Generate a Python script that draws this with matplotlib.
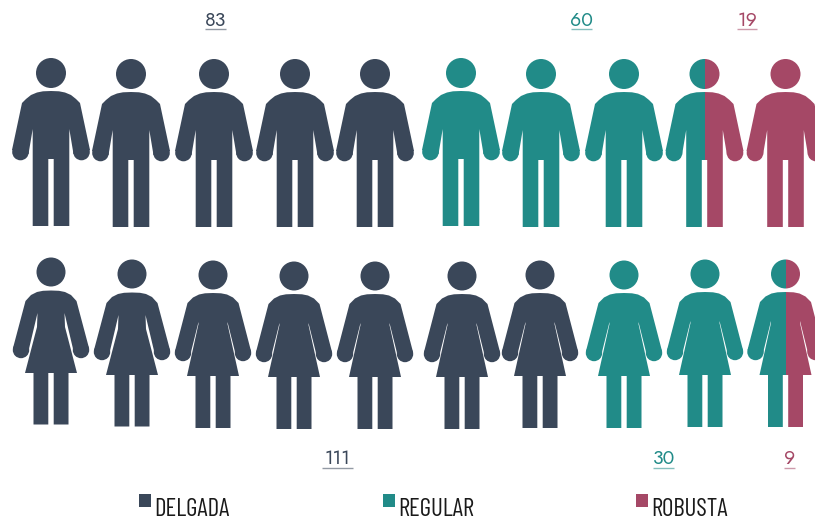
import matplotlib
matplotlib.use("Agg")
import matplotlib.pyplot as plt
from matplotlib.patches import Circle, Polygon, Rectangle

# Data
categories = ["DELGADA", "REGULAR", "ROBUSTA"]
men_counts = [83, 60, 19]
women_counts = [111, 30, 9]
men_icons = [5, 3.5, 1.5]       # icons filled per category
women_icons = [7, 2.5, 0.5]

# Style and layout
colors = ["#3A4759", "#218B88", "#A54866"]
men_x = [51, 131, 214, 295, 375, 461, 541, 624, 704.5, 785.5]
men_y = [73, 74, 74, 74, 74, 73, 74, 74, 74, 74]
women_x = [51, 132, 213, 294, 375, 462, 540, 624, 705, 785.5]
women_y = [272, 274, 275, 276, 276, 276, 275, 275, 274, 274]
men_label_pos = [(215.5, 20), (581.5, 20), (747, 20)]
women_label_pos = [(337.5, 459), (663.5, 459), (789.5, 459)]
men_rule_half = [10.5, 10.5, 10]
women_rule_half = [15.5, 10.5, 5.5]
legend_pos = [(139, 155), (383, 399), (636, 652)]

MAN_HALF = [(0, 18), (8, 18.3), (14, 19.5), (20, 22), (25, 26), (29, 30),
            (39, 77), (22.5, 81), (18.3, 56), (18.3, 153), (2.7, 153), (2.7, 86), (0, 86)]
# first two women have a wider gap under the arm
WOMAN_SLIM = [(0, 18.5), (8, 18.8), (14, 20), (20, 23), (25.5, 29), (38, 76),
              (23, 81), (13.5, 41), (14, 55), (26, 101), (17.5, 101), (17.5, 152.5), (2.7, 152.5),
              (2.7, 101), (0, 101)]
WOMAN_FULL = [(0, 18), (8, 18.3), (14, 19.5), (20, 22.5), (25.5, 28), (38, 76),
              (23, 81), (14.5, 47), (14.5, 49), (26, 101), (17.5, 101), (17.5, 153), (2.7, 153),
              (2.7, 101), (0, 101)]
HAND = {"m": (30.5, 79, 8.3), "w": (30, 78, 8.2)}
HEAD_R = {"m": 15, "w": 14.5}

fig = plt.figure(figsize=(8.15, 5.21), dpi=100)
ax = fig.add_axes([0, 0, 1, 1])
ax.set_xlim(0, 815)
ax.set_ylim(521, 0)
ax.axis("off")


def draw_icon(cx, cy, half, kind, color, x0, x1):
    pts = [(cx + x, cy + y) for x, y in half] + [(cx - x, cy + y) for x, y in reversed(half)]
    hx, hy, hr = HAND[kind]
    clip = Rectangle((x0, 0), x1 - x0, 521, transform=ax.transData)
    shapes = [Polygon(pts, closed=True), Circle((cx, cy), HEAD_R[kind]),
              Circle((cx + hx, cy + hy), hr), Circle((cx - hx, cy + hy), hr)]
    for s in shapes:
        s.set_facecolor(color)
        s.set_edgecolor("none")
        ax.add_patch(s)
        s.set_clip_path(clip)


def draw_row(xs, ys, units, kind):
    start = 0
    for value, color in zip(units, colors):
        end = start + value
        for i, (cx, cy) in enumerate(zip(xs, ys)):
            lo, hi = max(start, i), min(end, i + 1)
            if hi > lo:
                x0 = cx - 45 + 90 * (lo - i)
                x1 = cx - 45 + 90 * (hi - i)
                half = MAN_HALF if kind == "m" else (WOMAN_SLIM if i < 2 else WOMAN_FULL)
                draw_icon(cx, cy, half, kind, color, x0, x1)
        start = end


draw_row(men_x, men_y, men_icons, "m")
draw_row(women_x, women_y, women_icons, "w")


def draw_count(value, pos, half_w, color):
    x, y = pos
    ax.text(x, y, str(value), color=color, fontsize=14, family=["Jost", "Lato"],
            ha="center", va="center")
    ax.plot([x - half_w, x + half_w], [y + 8.5, y + 8.5],
            color=color, lw=1, alpha=0.55, solid_capstyle="butt")


for v, p, h, c in zip(men_counts, men_label_pos, men_rule_half, colors):
    draw_count(v, p, h, c)
for v, p, h, c in zip(women_counts, women_label_pos, women_rule_half, colors):
    draw_count(v, p, h, c)

for name, (sx, tx), c in zip(categories, legend_pos, colors):
    ax.add_patch(Rectangle((sx, 494), 12, 13, facecolor=c, edgecolor="none"))
    ax.text(tx - 1, 510, name, color="#1a1a1a", fontsize=18,
            family=["Barlow Condensed", "Liberation Sans"], ha="left", va="center")

fig.savefig("out.png", dpi=100)
